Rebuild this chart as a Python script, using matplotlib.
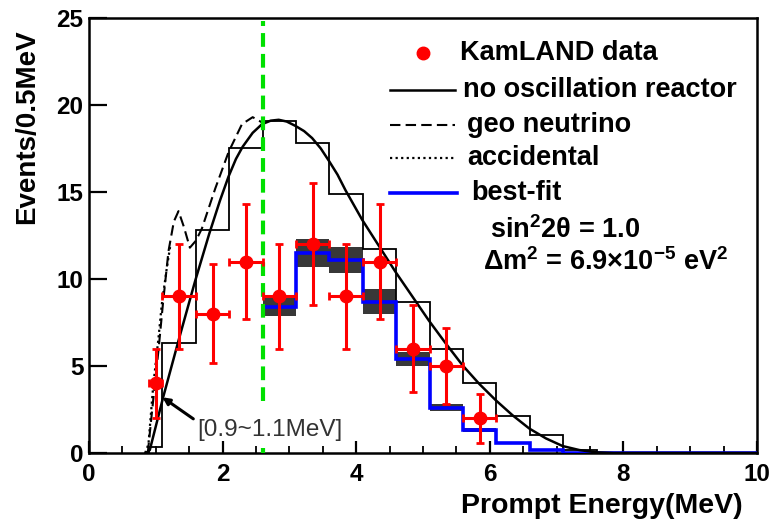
import matplotlib
matplotlib.use('Agg')
import matplotlib.pyplot as plt
import numpy as np
from matplotlib.patches import Rectangle

plt.rcParams['font.family'] = ['Liberation Sans', 'DejaVu Sans']
plt.rcParams['font.weight'] = 'bold'
plt.rcParams['mathtext.fontset'] = 'custom'
plt.rcParams['mathtext.rm'] = 'Liberation Sans:bold'
plt.rcParams['mathtext.it'] = 'Liberation Sans:bold'
plt.rcParams['mathtext.default'] = 'rm'

# expected spectrum without oscillation (histogram, events per bin)
noosc_edges = [0.9, 1.1, 1.6, 2.1, 2.6, 3.1, 3.6, 4.1, 4.6, 5.1, 5.6, 6.1, 6.6, 7.1, 7.6, 10.0]
noosc_hist = [0.35, 6.3, 12.8, 17.5, 19.1, 17.8, 14.9, 11.7, 8.7, 6.0, 4.0, 2.15, 1.05, 0.17, 0.0]

# best fit histogram + systematic band
fit_edges = [2.6, 3.1, 3.6, 4.1, 4.6, 5.1, 5.6, 6.1, 6.6, 7.1, 10.0]
fit_hist = [8.4, 11.5, 11.1, 8.7, 5.4, 2.6, 1.3, 0.55, 0.15, 0.0]
fit_sys = [0.5, 0.8, 0.75, 0.7, 0.4, 0.2, 0.12, 0.06, 0.0, 0.0]

# KamLAND data points
data_x = [1.0, 1.35, 1.85, 2.35, 2.85, 3.35, 3.85, 4.35, 4.85, 5.35, 5.85]
data_y = [4, 9, 8, 11, 9, 12, 9, 11, 6, 5, 2]
data_xerr = [0.1, 0.25, 0.25, 0.25, 0.25, 0.25, 0.25, 0.25, 0.25, 0.25, 0.25]
data_yerr = [2.0, 3.0, 2.85, 3.3, 3.0, 3.5, 3.0, 3.3, 2.5, 2.2, 1.4]

# smooth no-oscillation reactor curve
curve_x = [0.85, 0.91, 1.11, 1.35, 1.59, 1.80, 1.96, 2.09, 2.20, 2.30, 2.45, 2.59, 2.72, 2.84,
           2.96, 3.09, 3.22, 3.34, 3.47, 3.59, 3.72, 3.84, 4.09, 4.34, 4.59, 4.84, 5.09, 5.34,
           5.59, 5.84, 6.09, 6.34, 6.59, 6.84, 7.09, 7.34, 7.59, 7.85, 10.0]
curve_y = [0.0, 0.17, 3.2, 6.6, 9.9, 12.6, 14.5, 15.9, 16.9, 17.6, 18.4, 18.9, 19.1, 19.15,
           19.05, 18.8, 18.5, 18.1, 17.5, 16.8, 16.0, 15.1, 13.4, 11.9, 10.4, 9.0, 7.6, 6.3,
           5.05, 3.98, 3.03, 2.17, 1.41, 0.84, 0.4, 0.17, 0.04, 0.0, 0.0]

# geo neutrino (dashed) and accidental (dotted)
geo_x = [0.88, 0.96, 1.04, 1.11, 1.19, 1.27, 1.34, 1.42, 1.51, 1.60, 1.69, 1.89, 2.09, 2.29, 2.45, 2.59]
geo_y = [0.0, 3.0, 5.9, 8.7, 11.6, 13.3, 13.9, 13.0, 11.8, 12.2, 12.9, 15.2, 17.3, 18.9, 19.3, 19.0]
acc_x = [0.84, 0.89, 0.96, 1.04, 1.09, 1.16, 1.22]
acc_y = [0.0, 0.5, 3.8, 6.6, 8.55, 10.5, 12.0]

# 2.6 MeV analysis threshold (line is interrupted behind the label)
threshold = 2.6
thr_segments = [(0.0, 0.3), (3.0, 24.8)]

fig = plt.figure(figsize=(7.76, 5.24), dpi=100)
ax = fig.add_axes([89 / 776, 71 / 524, 668 / 776, 435 / 524])

# no oscillation histogram
ax.stairs(noosc_hist, noosc_edges, color='black', lw=1.3, zorder=3)

# systematic boxes on best fit
for i in range(len(fit_hist)):
    if fit_sys[i] > 0:
        ax.add_patch(Rectangle((fit_edges[i], fit_hist[i] - fit_sys[i]),
                               fit_edges[i + 1] - fit_edges[i], 2 * fit_sys[i],
                               facecolor='#222222', edgecolor='none', alpha=0.9, zorder=2))
ax.stairs(fit_hist, fit_edges, color='#0000ff', lw=2.6, zorder=4, baseline=None)

# curves
dash = (0, (5, 2.5))
dot = (0, (1, 1.5))
ax.plot(curve_x, curve_y, color='black', lw=1.8, zorder=5)
ax.plot(geo_x, geo_y, color='black', lw=1.5, ls=dash, zorder=5)
ax.plot(acc_x, acc_y, color='black', lw=1.6, ls=dot, zorder=5)

# threshold line
for y_lo, y_hi in thr_segments:
    ax.plot([threshold, threshold], [y_lo, y_hi], color='#00e000', lw=3, dashes=(3.3, 1.7), zorder=6)

# data
ax.errorbar(data_x, data_y, xerr=data_xerr, yerr=data_yerr, fmt='o', color='#ff0000',
            ms=9, elinewidth=2.2, capsize=3, capthick=2, zorder=7)

ax.annotate('[0.9~1.1MeV]', xy=(1.1, 3.2), xytext=(1.62, 1.3), fontsize=17.5, fontweight='normal',
            color='#333333', va='center', ha='left',
            arrowprops=dict(arrowstyle='-|>', lw=2.2, color='black', mutation_scale=10,
                            shrinkA=1, shrinkB=0, relpos=(0, 0.9)), zorder=8)

ax.set_xlim(0, 10)
ax.set_ylim(0, 25)
ax.set_xticks(np.arange(0, 11, 2))
ax.set_xticks(np.arange(0, 10.01, 0.5), minor=True)
ax.set_yticks(np.arange(0, 26, 5))
ax.tick_params(axis='x', which='major', direction='in', length=9, width=1.6, labelsize=17.5, pad=7)
ax.tick_params(axis='x', which='minor', direction='in', length=5, width=1.3)
ax.tick_params(axis='y', which='major', direction='in', length=13, width=1.6, labelsize=17.5, pad=4)
for s in ax.spines.values():
    s.set_linewidth(1.8)

fig.text(743 / 776, 1 - 506 / 524, 'Prompt Energy(MeV)', ha='right', va='center', fontsize=20.5)
fig.text(27 / 776, 1 - 29 / 524, 'Events/0.5MeV', ha='center', va='top', rotation=90, fontsize=20)

# legend drawn by hand
def ax_pt(px, py):
    return ((px - 89) / 668, (453 - py) / 435)

tr = ax.transAxes
fs = 19.5
x0, y0 = ax_pt(423, 53)
ax.plot([x0], [y0], 'o', color='#ff0000', ms=9, transform=tr, clip_on=False)
ax.text(*ax_pt(460, 53), 'KamLAND data', transform=tr, fontsize=fs, va='center')

(xa, ya), (xb, _) = ax_pt(390, 90), ax_pt(455, 90)
ax.plot([xa, xb], [ya, ya], color='black', lw=1.8, transform=tr)
ax.text(*ax_pt(463, 90), 'no oscillation reactor', transform=tr, fontsize=fs, va='center')

(xa, ya), (xb, _) = ax_pt(390, 125), ax_pt(455, 125)
ax.plot([xa, xb], [ya, ya], color='black', lw=1.5, ls=dash, transform=tr)
ax.text(*ax_pt(467, 125), 'geo neutrino', transform=tr, fontsize=fs, va='center')

(xa, ya), (xb, _) = ax_pt(390, 158), ax_pt(455, 158)
ax.plot([xa, xb], [ya, ya], color='black', lw=1.6, ls=dot, transform=tr)
ax.text(*ax_pt(467, 158), 'accidental', transform=tr, fontsize=fs, va='center')

(xa, ya), (xb, _) = ax_pt(390, 193), ax_pt(457, 193)
ax.plot([xa, xb], [ya, ya], color='#0000ff', lw=2.6, transform=tr)
ax.text(*ax_pt(471, 193), 'best-fit', transform=tr, fontsize=fs, va='center')

ax.text(*ax_pt(490, 230), 'sin$^{2}$2\u03b8 = 1.0', transform=tr, fontsize=fs, va='center')
ax.text(*ax_pt(483, 262), '\u0394m$^{2}$ = 6.9\u00d710$^{-5}$ eV$^{2}$', transform=tr, fontsize=fs, va='center')

fig.savefig('out.png', dpi=100)
